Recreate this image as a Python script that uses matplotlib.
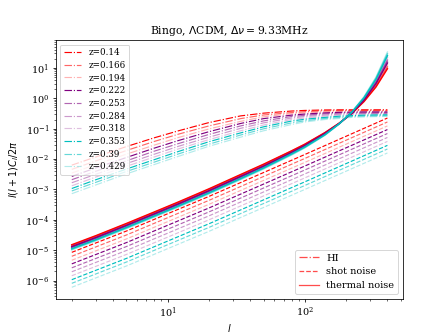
import numpy as np
import matplotlib
matplotlib.use('Agg')
import matplotlib.pyplot as plt

plt.rcParams['font.family'] = ['DejaVu Serif']

# redshift bins
z_labels = ['0.14', '0.166', '0.194', '0.222', '0.253', '0.284', '0.318', '0.353', '0.39', '0.429']
colors = ['red', 'red', 'red', 'purple', 'purple', 'purple', 'purple', 'c', 'c', 'c']
alphas = [1.0, 0.6, 0.3, 1.0, 0.6, 0.4, 0.25, 1.0, 0.6, 0.3]

ells = [2, 3, 5, 8, 12, 20, 34, 50, 80, 100, 140, 178, 220, 270, 330, 400]
shot_ells = [2, 5, 20, 100, 400]

# log10 of l(l+1)C_l/2pi, one row per redshift bin
hi_log = [
    [-2.20, -1.93, -1.59, -1.30, -1.07, -0.80, -0.58, -0.49, -0.42, -0.40, -0.385, -0.38, -0.38, -0.38, -0.38, -0.38],
    [-2.34, -2.06, -1.72, -1.42, -1.18, -0.91, -0.67, -0.55, -0.47, -0.44, -0.415, -0.405, -0.40, -0.40, -0.40, -0.40],
    [-2.46, -2.18, -1.84, -1.54, -1.29, -1.01, -0.76, -0.61, -0.51, -0.48, -0.45, -0.44, -0.43, -0.43, -0.43, -0.43],
    [-2.57, -2.29, -1.95, -1.64, -1.39, -1.10, -0.83, -0.67, -0.555, -0.52, -0.48, -0.464, -0.455, -0.45, -0.45, -0.45],
    [-2.68, -2.40, -2.06, -1.74, -1.49, -1.19, -0.91, -0.745, -0.60, -0.56, -0.51, -0.49, -0.48, -0.476, -0.473, -0.473],
    [-2.78, -2.50, -2.15, -1.84, -1.58, -1.28, -0.99, -0.81, -0.65, -0.60, -0.55, -0.525, -0.51, -0.50, -0.50, -0.50],
    [-2.88, -2.59, -2.24, -1.93, -1.665, -1.36, -1.07, -0.88, -0.70, -0.65, -0.59, -0.557, -0.54, -0.53, -0.523, -0.52],
    [-2.97, -2.68, -2.33, -2.02, -1.75, -1.43, -1.14, -0.94, -0.75, -0.69, -0.63, -0.59, -0.57, -0.557, -0.548, -0.544],
    [-3.05, -2.765, -2.41, -2.10, -1.83, -1.51, -1.21, -1.005, -0.81, -0.74, -0.665, -0.63, -0.60, -0.585, -0.576, -0.57],
    [-3.14, -2.85, -2.49, -2.18, -1.91, -1.58, -1.28, -1.07, -0.865, -0.78, -0.70, -0.665, -0.63, -0.614, -0.603, -0.595],
]

thermal_log = [
    [-4.82, -4.52, -4.12, -3.74, -3.41, -2.98, -2.51, -2.17, -1.73, -1.51, -1.13, -0.82, -0.50, -0.11, 0.37, 0.97],
    [-4.84, -4.54, -4.14, -3.76, -3.43, -3.00, -2.53, -2.19, -1.74, -1.52, -1.14, -0.82, -0.50, -0.09, 0.40, 1.03],
    [-4.86, -4.56, -4.16, -3.78, -3.45, -3.02, -2.55, -2.21, -1.76, -1.53, -1.15, -0.83, -0.49, -0.08, 0.44, 1.09],
    [-4.88, -4.58, -4.18, -3.80, -3.47, -3.04, -2.57, -2.23, -1.78, -1.55, -1.16, -0.83, -0.49, -0.06, 0.48, 1.16],
    [-4.90, -4.60, -4.20, -3.82, -3.49, -3.06, -2.59, -2.25, -1.79, -1.57, -1.17, -0.84, -0.48, -0.04, 0.51, 1.22],
    [-4.91, -4.61, -4.21, -3.83, -3.50, -3.07, -2.60, -2.25, -1.80, -1.57, -1.18, -0.83, -0.47, -0.02, 0.55, 1.27],
    [-4.93, -4.63, -4.23, -3.85, -3.52, -3.09, -2.62, -2.27, -1.82, -1.59, -1.19, -0.84, -0.47, 0.00, 0.59, 1.34],
    [-4.95, -4.65, -4.25, -3.87, -3.54, -3.11, -2.64, -2.29, -1.83, -1.60, -1.20, -0.84, -0.46, 0.01, 0.62, 1.40],
    [-4.97, -4.67, -4.27, -3.89, -3.56, -3.13, -2.66, -2.31, -1.85, -1.62, -1.21, -0.84, -0.46, 0.03, 0.66, 1.46],
    [-4.99, -4.69, -4.29, -3.91, -3.58, -3.15, -2.68, -2.33, -1.87, -1.63, -1.22, -0.85, -0.45, 0.05, 0.69, 1.52],
]

shot_log = [
    [-5.07, -4.37, -3.23, -1.85, -0.65],
    [-5.20, -4.50, -3.36, -1.98, -0.78],
    [-5.33, -4.63, -3.49, -2.11, -0.91],
    [-5.45, -4.75, -3.61, -2.23, -1.03],
    [-5.58, -4.88, -3.74, -2.36, -1.16],
    [-5.71, -5.01, -3.87, -2.49, -1.29],
    [-5.84, -5.14, -4.00, -2.62, -1.42],
    [-5.97, -5.27, -4.13, -2.75, -1.55],
    [-6.09, -5.39, -4.25, -2.87, -1.67],
    [-6.22, -5.52, -4.38, -3.00, -1.80],
]

fig = plt.figure(figsize=(6.4, 4.8), dpi=70)
ax = fig.add_subplot(111)

hi_lines = []
for i in range(len(z_labels)):
    c = colors[i]
    a = alphas[i]
    line, = ax.plot(ells, 10 ** np.array(hi_log[i]), '-.', color=c, alpha=a, lw=1.2)
    hi_lines.append(line)
    ax.plot(shot_ells, 10 ** np.array(shot_log[i]), '--', color=c, alpha=a, lw=1.2)
    ax.plot(ells, 10 ** np.array(thermal_log[i]), '-', color=c, alpha=a, lw=1.5)

ax.set_xscale('log')
ax.set_yscale('log')
ax.set_xlabel(r'$l$', labelpad=2)
ax.set_ylabel(r'$l(l+1)C_l/2\pi$')
ax.set_title(r'Bingo, $\Lambda$CDM, $\Delta\nu=$9.33MHz', fontsize=11)

leg1 = ax.legend(hi_lines, ['z=' + z for z in z_labels], loc='upper left',
                 fontsize=9, labelspacing=0.42)
ax.add_artist(leg1)

# empty lines used only as legend keys
k1, = ax.plot([], [], '-.', color='red', alpha=0.7, lw=1.3)
k2, = ax.plot([], [], '--', color='red', alpha=0.7, lw=1.3)
k3, = ax.plot([], [], '-', color='red', alpha=0.7, lw=1.3)
ax.legend([k1, k2, k3], ['HI', 'shot noise', 'thermal noise'], loc='lower right')

plt.savefig('out.png')
